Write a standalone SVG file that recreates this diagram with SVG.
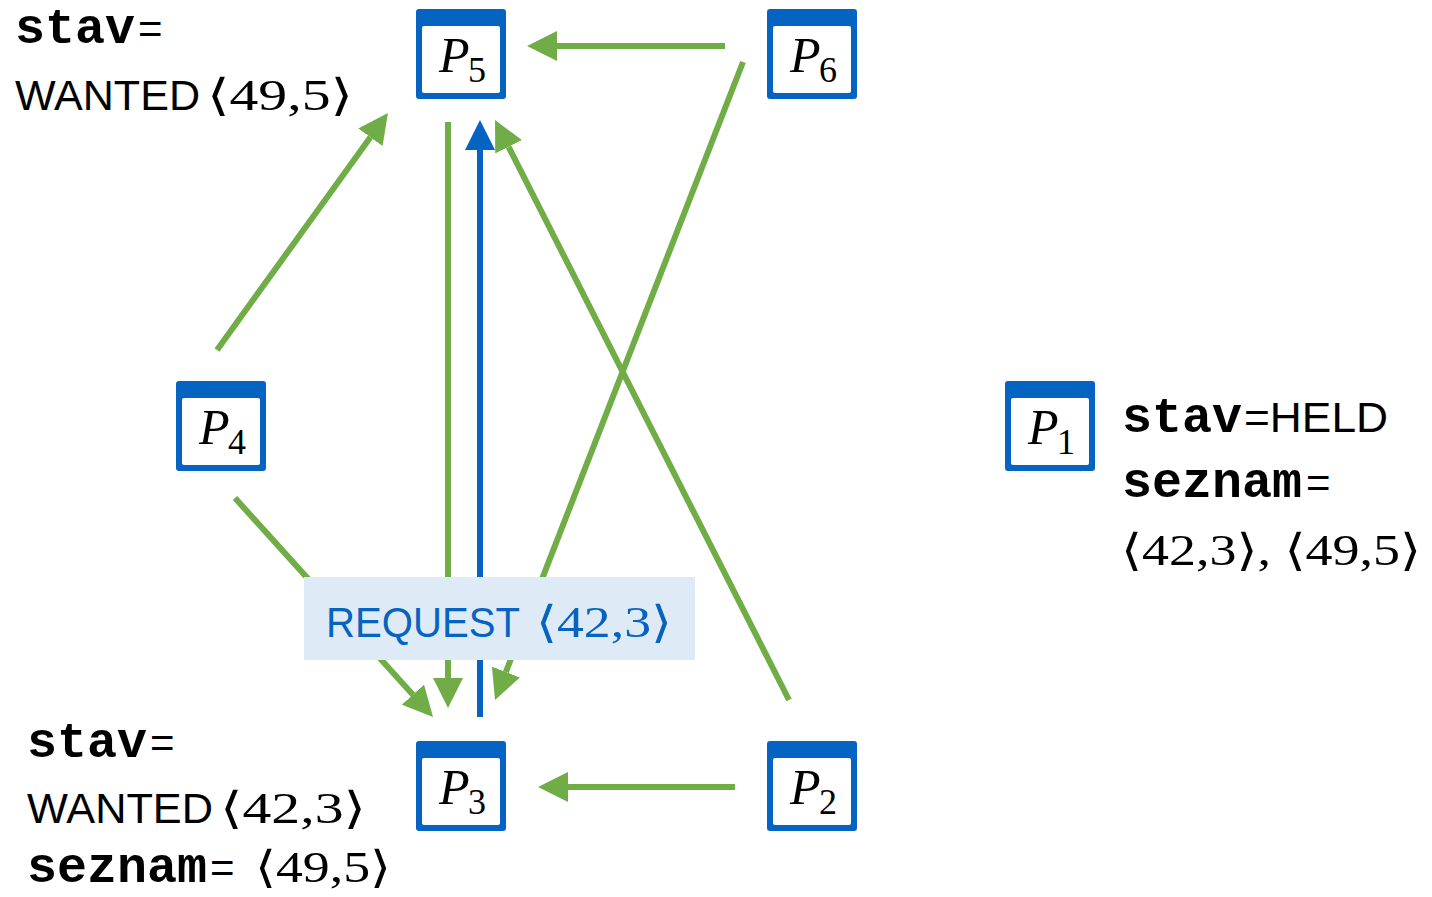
<svg xmlns="http://www.w3.org/2000/svg" width="1432" height="897" viewBox="0 0 1432 897">
<style>
.box{fill:#0563C1}
.inner{fill:#ffffff}
.pl{font-family:"Liberation Serif","DejaVu Serif",serif;font-style:italic;font-size:50px;fill:#000}
.sub{font-family:"Liberation Serif","DejaVu Serif",serif;font-size:36px;fill:#000}
.g{stroke:#70AD47;stroke-width:6;fill:none}
.b{stroke:#0563C1;stroke-width:6;fill:none}
.mono{font-family:"Liberation Mono","Courier New",monospace;font-weight:bold;font-size:50px;fill:#000}
.sans{font-family:"Liberation Sans",Arial,sans-serif;font-size:42px;fill:#000}
.ser{font-family:"Liberation Serif","DejaVu Serif",serif;font-size:44px;fill:#000}
.req{fill:#0563C1}
</style>
<defs>
<marker id="ag" markerUnits="userSpaceOnUse" markerWidth="30" markerHeight="30" refX="0" refY="15" orient="auto"><path d="M0,0 L30,15 L0,30 z" fill="#70AD47"/></marker>
<marker id="ab" markerUnits="userSpaceOnUse" markerWidth="30" markerHeight="30" refX="0" refY="15" orient="auto"><path d="M0,0 L30,15 L0,30 z" fill="#0563C1"/></marker>
</defs>
<rect width="1432" height="897" fill="#ffffff"/>
<g id="connectors">
<line class="g" x1="725" y1="46" x2="557" y2="46" marker-end="url(#ag)"/>
<line class="g" x1="735" y1="787" x2="568" y2="787" marker-end="url(#ag)"/>
<line class="g" x1="448" y1="122" x2="448" y2="678" marker-end="url(#ag)"/>
<line class="b" x1="480" y1="717" x2="480" y2="150" marker-end="url(#ab)"/>
<line class="g" x1="217" y1="350" x2="370.4" y2="137.3" marker-end="url(#ag)"/>
<line class="g" x1="235" y1="498" x2="412.9" y2="694.7" marker-end="url(#ag)"/>
<line class="g" x1="743" y1="62" x2="505.9" y2="672" marker-end="url(#ag)"/>
<line class="g" x1="789" y1="700" x2="508.6" y2="146.8" marker-end="url(#ag)"/>
</g>
<g id="request-label">
<rect x="304" y="577" width="391" height="83" fill="#DEEAF6"/>
<text class="sans req" x="326" y="637" textLength="194" lengthAdjust="spacingAndGlyphs">REQUEST</text>
<text class="ser req" x="536" y="637" textLength="136" lengthAdjust="spacingAndGlyphs">⟨42,3⟩</text>
</g>
<g id="P5">
<rect class="box" x="416" y="9" width="90" height="90" rx="3"/>
<rect class="inner" x="422" y="26" width="78" height="67" rx="2"/>
<text class="pl" x="439" y="72">P</text><text class="sub" x="468" y="82">5</text>
</g>
<g id="P6">
<rect class="box" x="767" y="9" width="90" height="90" rx="3"/>
<rect class="inner" x="773" y="26" width="78" height="67" rx="2"/>
<text class="pl" x="790" y="72">P</text><text class="sub" x="819" y="82">6</text>
</g>
<g id="P4">
<rect class="box" x="176" y="381" width="90" height="90" rx="3"/>
<rect class="inner" x="182" y="398" width="78" height="67" rx="2"/>
<text class="pl" x="199" y="444">P</text><text class="sub" x="228" y="454">4</text>
</g>
<g id="P1">
<rect class="box" x="1005" y="381" width="90" height="90" rx="3"/>
<rect class="inner" x="1011" y="398" width="78" height="67" rx="2"/>
<text class="pl" x="1028" y="444">P</text><text class="sub" x="1057" y="454">1</text>
</g>
<g id="P3">
<rect class="box" x="416" y="741" width="90" height="90" rx="3"/>
<rect class="inner" x="422" y="758" width="78" height="67" rx="2"/>
<text class="pl" x="439" y="804">P</text><text class="sub" x="468" y="814">3</text>
</g>
<g id="P2">
<rect class="box" x="767" y="741" width="90" height="90" rx="3"/>
<rect class="inner" x="773" y="758" width="78" height="67" rx="2"/>
<text class="pl" x="790" y="804">P</text><text class="sub" x="819" y="814">2</text>
</g>
<g id="state-P5">
<text class="mono" x="15" y="43">stav</text><text class="sans" x="138" y="43">=</text>
<text class="sans" x="15" y="110" textLength="185" lengthAdjust="spacingAndGlyphs">WANTED</text>
<text class="ser" x="207" y="110" textLength="146" lengthAdjust="spacingAndGlyphs">⟨49,5⟩</text>
</g>
<g id="state-P1">
<text class="mono" x="1122" y="432">stav</text><text class="sans" x="1244" y="432" textLength="144" lengthAdjust="spacingAndGlyphs">=HELD</text>
<text class="mono" x="1122" y="497">seznam</text><text class="sans" x="1306" y="497">=</text>
<text class="ser" x="1121" y="565" textLength="300" lengthAdjust="spacingAndGlyphs">⟨42,3⟩, ⟨49,5⟩</text>
</g>
<g id="state-P3">
<text class="mono" x="27" y="757">stav</text><text class="sans" x="150" y="757">=</text>
<text class="sans" x="27" y="823" textLength="186" lengthAdjust="spacingAndGlyphs">WANTED</text>
<text class="ser" x="220" y="823" textLength="146" lengthAdjust="spacingAndGlyphs">⟨42,3⟩</text>
<text class="mono" x="27" y="882">seznam</text><text class="sans" x="210" y="882">=</text>
<text class="ser" x="255" y="882" textLength="136" lengthAdjust="spacingAndGlyphs">⟨49,5⟩</text>
</g>
</svg>
